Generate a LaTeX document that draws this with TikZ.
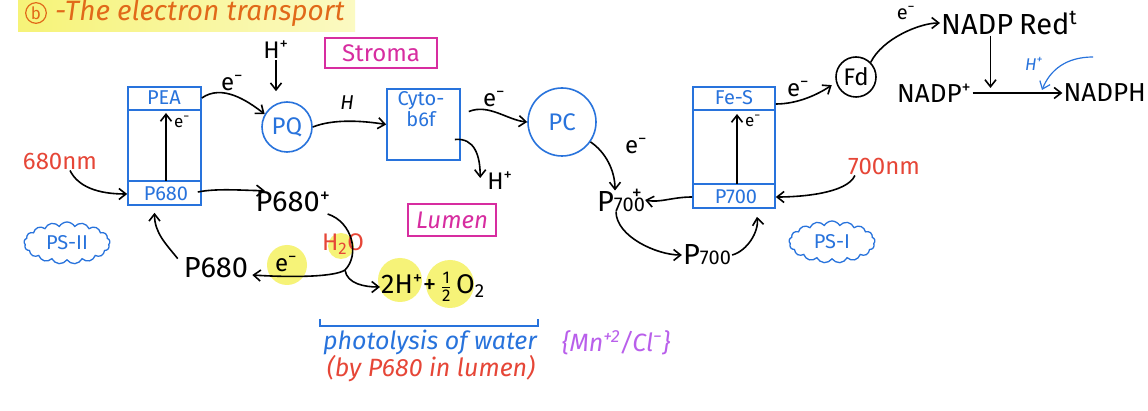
\documentclass[tikz,border=0pt]{standalone}
\usepackage{fontspec}
\setmainfont{Fira Sans}
\usetikzlibrary{shapes.symbols,arrows.meta,calc}
\definecolor{bl}{RGB}{40,115,220}
\definecolor{mg}{RGB}{215,45,160}
\definecolor{rd}{RGB}{230,70,55}
\definecolor{hy}{RGB}{246,243,120}
\definecolor{orn}{RGB}{225,105,25}
\definecolor{pu}{RGB}{185,95,235}
\newcommand\fbig{\fontsize{29}{31}\selectfont}
\newcommand\fnad{\fontsize{26}{28}\selectfont}
\newcommand\fmid{\fontsize{24}{26}\selectfont}
\newcommand\fsm{\fontsize{20}{20}\selectfont}
\newcommand\ftiny{\fontsize{17}{17}\selectfont}
\newcommand\mns{\textsuperscript{−}}
\begin{document}
\begin{tikzpicture}[x=1pt,y=-1pt,
  arr/.style={-{Straight Barb[length=7pt,width=11pt]}, line width=1.6pt},
  plain/.style={line width=1.6pt},
  lab/.style={inner sep=1pt, font=\fmid},
  big/.style={inner sep=1pt, font=\fbig},
  circ/.style={circle, draw=bl, line width=1.6pt, text=bl, font=\fmid, inner sep=0pt},
  psbox/.style={draw=bl, line width=1.6pt, inner sep=0pt},
  intext/.style={text=bl, font=\fsm, inner sep=1pt},
  tagbox/.style={draw=mg, line width=1.6pt, text=mg, font=\fmid, inner sep=2pt},
  cl/.style={cloud, draw=bl, text=bl, cloud puffs=17, cloud puff arc=120, aspect=2.1, inner sep=0pt, minimum width=86, minimum height=42, font=\fsm, line width=1.3pt}
]
\useasboundingbox (0,0) rectangle (1148,411);
\fill[white] (0,0) rectangle (1148,411);
% highlights
\shade[left color=hy, right color=hy!45, draw=none] (18,-2) rectangle (355,32);
\fill[hy] (287,265) circle (20);
\fill[hy] (341,246) circle (13);
\fill[hy] (400,280) circle (22);
\fill[hy] (450,284) circle (24);
% title
\node[circle, draw=orn, text=orn, font=\ftiny, inner sep=1.5pt, line width=1.2pt] (bcir) at (36,13) {b};
\node[anchor=west, text=orn, font=\fontsize{28}{30}\selectfont\itshape, inner sep=1pt] (title) at (54,13) {-The electron transport};
% compartments
\node[tagbox, minimum width=112, minimum height=30] (stroma) at (381,53) {Stroma};
\node[tagbox, minimum width=88, minimum height=32, font=\fmid\itshape] (lumen) at (452,220) {Lumen};
% PS-II box
\node[psbox, minimum width=73, minimum height=118] (ps2) at (164.5,146) {};
\node[intext] (pea) at (164,98) {PEA};
\node[intext] (p680in) at (166,194) {P680};
\draw[bl, line width=1.6pt] (ps2.west |- 0,110) -- (ps2.east |- 0,110);
\draw[bl, line width=1.6pt] (ps2.west |- 0,181) -- (ps2.east |- 0,181);
\coordinate (ps2a) at (166,181);
\coordinate (ps2b) at (166,113);
\draw[arr] (ps2a) -- (ps2b);
\node[lab, font=\ftiny] (e1) at (182,122) {e\mns};
% PQ
\node[circ, minimum size=50] (pq) at (287,127) {PQ};
\node[lab] (hp1) at (276,50) {H\textsuperscript{+}};
\draw[arr, shorten >=10pt] (hp1.south) -- (hp1 |- pq.north);
\draw[arr] (ps2.east |- pea) .. controls +(20,-14) and +(-18,-14) .. (pq.150);
\node[lab] (e2) at (232,83) {e\mns};
% cyt b6f
\node[psbox, minimum width=73, minimum height=71] (cyt) at (423.5,124.5) {};
\node[intext, align=center, font=\fontsize{20}{18}\selectfont] (cytt) at (421,109) {Cyto-\\b6f};
\draw[arr] (pq.east) .. controls +(20,-8) and +(-25,-4) .. (cyt.west);
\node[lab, font=\fsm\itshape] (h1) at (347,103) {H};
% PC
\node[circ, minimum size=68] (pc) at (562,122) {PC};
\draw[arr] ($(cyt.east)+(8,-13)$) .. controls +(20,-8) and +(-20,-2) .. (pc.west);
\node[lab] (e3) at (494,99) {e\mns};
\node[lab] (hp2) at (500,181) {H\textsuperscript{+}};
\draw[arr] ($(cyt.east)+(-6,15)$) .. controls +(20,-2) and +(0,-22) .. ($(hp2.west)+(-6,-3)$);
% P700+
\node[big, inner sep=0pt] (p700p) at (621,200) {P{\fsm 700}\llap{\raisebox{12pt}{\fsm +\hspace{3pt}}}};
\draw[arr] (pc.-35) .. controls +(15,10) and +(0,-20) .. ($(p700p.north)+(-6,2)$);
\node[lab] (e4) at (636,146) {e\mns};
% PS-I box
\node[psbox, minimum width=82, minimum height=121] (ps1) at (734,147.5) {};
\node[intext] (fes) at (734,98) {Fe-S};
\node[intext] (p700in) at (736,197) {P700};
\draw[bl, line width=1.6pt] (ps1.west |- 0,110) -- (ps1.east |- 0,110);
\draw[bl, line width=1.6pt] (ps1.west |- 0,184) -- (ps1.east |- 0,184);
\coordinate (ps1a) at (737,184);
\coordinate (ps1b) at (737,114);
\draw[arr] (ps1a) -- (ps1b);
\node[lab, font=\ftiny] (e5) at (753,121) {e\mns};
% Fd
\node[circle, draw=black, line width=1.6pt, font=\fmid, inner sep=0pt, minimum size=40] (fd) at (856,77) {Fd};
\draw[arr, shorten >=5pt] ($(ps1.east |- fes)+(0,6)$) .. controls +(22,0) and +(-18,12) .. (fd.195);
\node[lab] (e6) at (798,89) {e\mns};
% NADP
\node[big, anchor=west] (nadpred) at (940,23) {NADP\hspace{6pt}Red\textsuperscript{t}};
\draw[arr] (fd.45) .. controls +(12,-24) and +(-20,0) .. (nadpred.west);
\node[lab, font=\fsm] (e7) at (906,13) {e\mns};
\node[font=\fnad, inner sep=1pt, anchor=west] (nadpp) at (896,93) {NADP\textsuperscript{+}};
\node[font=\fnad, inner sep=1pt, anchor=east] (nadph) at (1147,93) {NADPH};
\draw[arr] (nadpp.east) -- (nadph.west);
\coordinate (rx) at ($(nadpp.east)!0.2!(nadph.west)$);
\draw[arr] (rx |- nadpred.south) -- ($(rx)+(0,-5)$);
\coordinate (hbs) at (1093,57);
\coordinate (hbe) at (1042,90);
\draw[arr, bl, line width=1.2pt] (hbs) .. controls (1066,57) and (1050,70) .. (hbe);
\node[text=bl, font=\ftiny\itshape, inner sep=0pt] (hb) at (1034,64) {H\textsuperscript{+}};
% 700nm
\node[lab, text=rd] (nm700) at (884,166) {700nm};
\draw[arr] ($(nm700.south west)+(8,0)$) .. controls +(-8,18) and +(25,0) .. (ps1.east |- p700in);
\draw[arr] (ps1.west |- p700in) .. controls +(-20,0) and +(15,3) .. (p700p.east);
\node[big] (p700b) at (707,255) {P{\fsm 700}};
\draw[arr] ($(p700p.south)+(-5,0)$) .. controls +(0,25) and +(-25,0) .. (p700b.west);
\draw[arr] (p700b.east) .. controls +(15,-4) and +(2,15) .. ($(ps1.south)+(23,8)$);
\node[cl] (ps1c) at (832,242) {PS-I};
% PS-II side
\node[lab, text=rd] (nm680) at (60,161) {680nm};
\draw[arr] ($(nm680.south)+(10,0)$) .. controls +(8,16) and +(-30,0) .. (ps2.west |- p680in);
\node[big] (p680p) at (293,202) {P680\textsuperscript{+}};
\draw[arr] ($(ps2.east |- p680in)+(-4,-2)$) .. controls +(20,-4) and +(-20,0) .. (p680p.158);
\node[cl] (ps2c) at (67,243) {PS-II};
\node[big] (p680b) at (216,268) {P680};
\draw[arr] ($(p680b.north west)+(-5,2)$) .. controls +(-12,-15) and +(0,20) .. ($(ps2.south)+(-10,7)$);
\node[lab, text=rd] (h2o) at (343,244) {H\textsubscript{2}O};
\coordinate (split) at (345,270);
\draw[plain] ($(p680p.east)+(-4,12)$) .. controls +(25,8) and +(15,-15) .. (split);
\draw[arr] (split) .. controls +(-12,8) and +(30,2) .. ($(p680b.east)+(3,7)$);
\node[lab] (e8) at (286,264) {e\mns};
\node[font=\fontsize{27}{29}\selectfont, inner sep=1pt, anchor=west] (prod) at (380,287) {2H\textsuperscript{+}+\,\ensuremath{\frac{\mbox{\ftiny 1}}{\mbox{\ftiny 2}}}\,O\textsubscript{2}};
\draw[arr] (split) .. controls +(2,14) and +(-15,0) .. (prod.west);
% photolysis
\node[text=bl, font=\fontsize{25}{27}\selectfont\itshape, inner sep=1pt] (photo) at (430,342) {photolysis of water};
\draw[bl, line width=1.6pt] (320,319) -- (320,326) -- (538,326) -- (538,319);
\node[text=pu, font=\fontsize{25}{27}\selectfont\itshape, inner sep=1pt] (mn) at (616,343) {\{Mn\textsuperscript{+2}/Cl\mns\}};
\node[text=rd, font=\fontsize{25}{27}\selectfont\itshape, inner sep=1pt] (by) at (431,369) {(by P680 in lumen)};
\end{tikzpicture}
\end{document}
